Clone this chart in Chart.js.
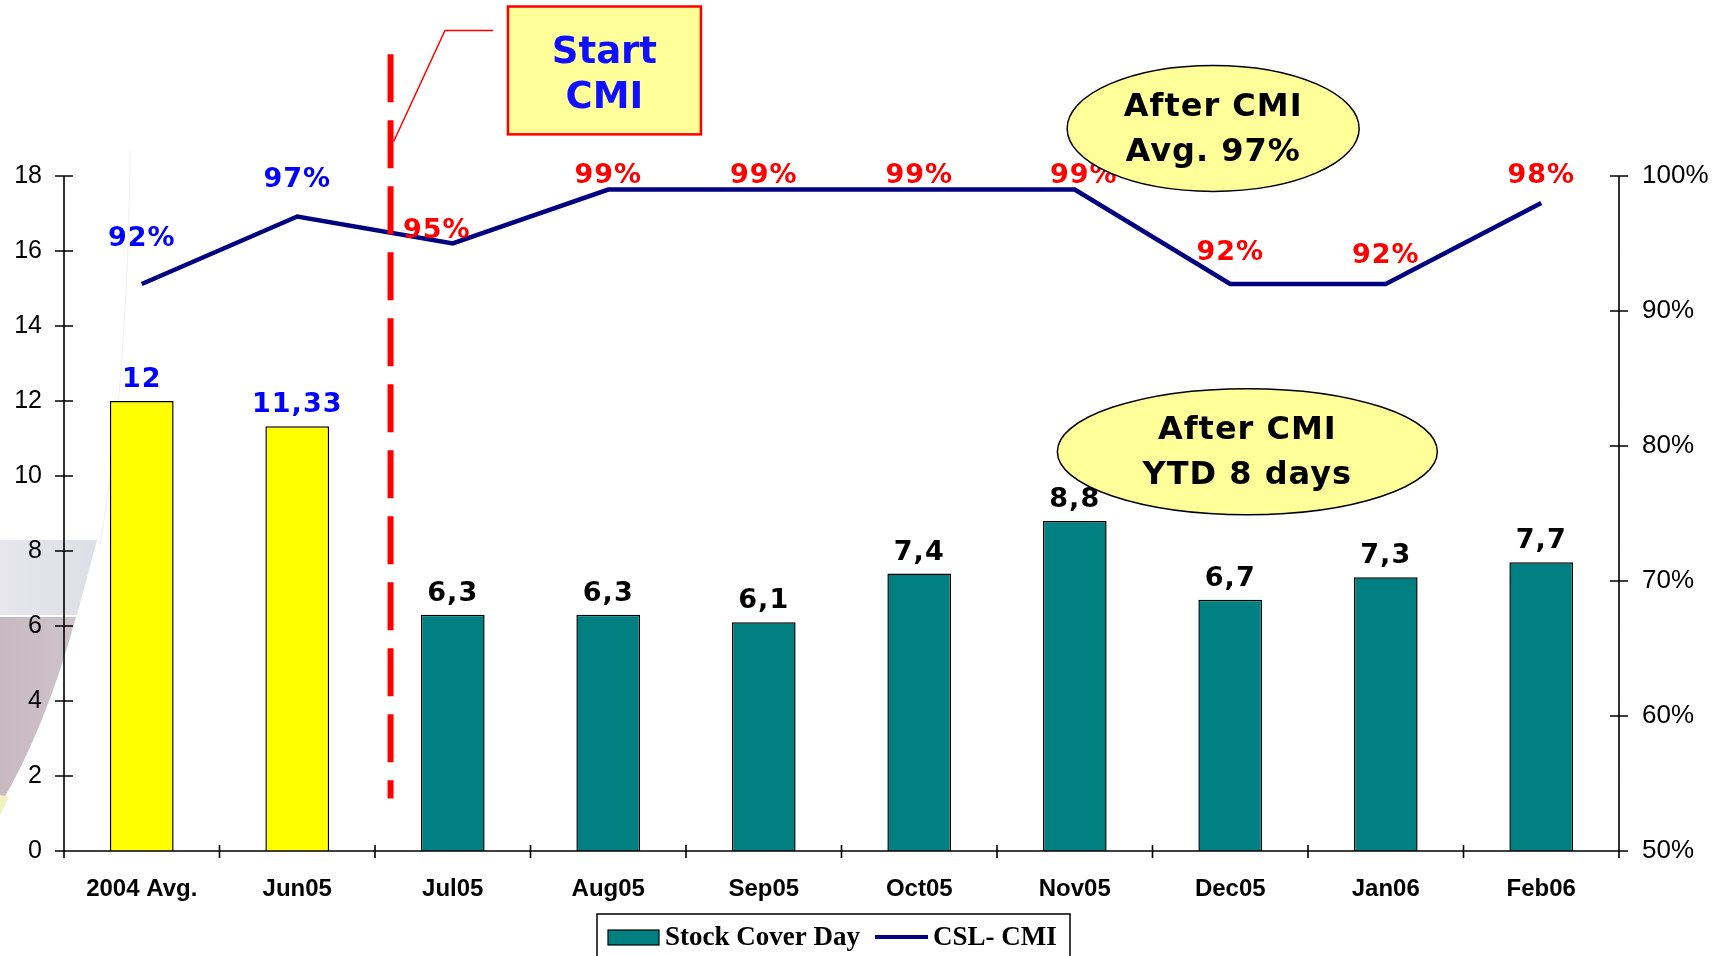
<!DOCTYPE html>
<html>
<head>
<meta charset="utf-8">
<script src="https://cdn.jsdelivr.net/npm/chart.js@4.4.0/dist/chart.umd.min.js"></script>
<style>
  html, body { margin: 0; padding: 0; background: #fff; }
  #wrap { width: 1730px; height: 956px; }
</style>
</head>
<body>
<div id="wrap"><canvas id="chart" width="1730" height="956"></canvas></div>
<script>
// values
const categories = ['2004 Avg.', 'Jun05', 'Jul05', 'Aug05', 'Sep05', 'Oct05', 'Nov05', 'Dec05', 'Jan06', 'Feb06'];
const stockCoverDays = [12, 11.33, 6.3, 6.3, 6.1, 7.4, 8.8, 6.7, 7.3, 7.7];
const cslCmi = [92, 97, 95, 99, 99, 99, 99, 92, 92, 98];
const daysTicks = [0, 18, 2];      // min, max, step
const pctTicks = [50, 100, 10];
const preCmiCount = 2;             // months before CMI start

// styling
const YELLOW = '#ffff00', TEAL = '#008080', NAVY = '#000080';
const BLUE = '#0000ff', RED = '#ff0000';
const labelFont = 'bold 27px "DejaVu Sans"';
const noteFont = 'bold 32px "DejaVu Sans"';
// little nudges so the % labels sit where they did on the slide
const pctLabelLift = [45, 37, 13, 14, 14, 14, 14, 31, 28, 27];
const pctLabelShift = [0, 0, -16, 0, 0, 0, 9, 0, 0, 0];

const fmt = v => String(v).replace('.', ',');

// faint funnel art on the left edge of the slide
const backdrop = {
  id: 'backdrop',
  beforeDraw(chart) {
    const c = chart.ctx;
    c.save();
    let g = c.createLinearGradient(0, 0, 100, 0);
    g.addColorStop(0, 'rgba(230,230,236,1)');
    g.addColorStop(1, 'rgba(222,222,230,1)');
    c.fillStyle = g;
    c.beginPath();
    c.moveTo(0, 540); c.lineTo(97, 540); c.lineTo(77, 615); c.lineTo(0, 615);
    c.closePath(); c.fill();
    g = c.createLinearGradient(0, 0, 80, 0);
    g.addColorStop(0, 'rgba(198,186,192,1)');
    g.addColorStop(1, 'rgba(207,196,201,1)');
    c.fillStyle = g;
    c.beginPath();
    c.moveTo(0, 617); c.lineTo(76, 617); c.quadraticCurveTo(45, 730, 0, 805);
    c.closePath(); c.fill();
    c.fillStyle = 'rgba(240,242,190,1)';
    c.beginPath();
    c.moveTo(0, 795); c.lineTo(9, 797); c.lineTo(0, 815); c.closePath(); c.fill();
    c.strokeStyle = 'rgba(232,238,232,0.7)';
    c.lineWidth = 1.2;
    c.beginPath();
    c.moveTo(130, 150); c.quadraticCurveTo(128, 380, 100, 545);
    c.stroke();
    c.restore();
  }
};

// axis lines with ticks that cross the line, like the old Excel chart
const axes = {
  id: 'axes',
  afterDatasetsDraw(chart) {
    const c = chart.ctx, a = chart.chartArea;
    const { x, y, y1 } = chart.scales;
    c.save();
    c.strokeStyle = '#000';
    c.lineWidth = 1.6;
    c.beginPath();
    c.moveTo(a.left, a.top); c.lineTo(a.left, a.bottom);
    c.moveTo(a.right, a.top); c.lineTo(a.right, a.bottom);
    c.moveTo(a.left, a.bottom); c.lineTo(a.right, a.bottom);
    y.ticks.forEach(t => {
      const p = y.getPixelForValue(t.value);
      c.moveTo(a.left - 9, p); c.lineTo(a.left + 9, p);
    });
    y1.ticks.forEach(t => {
      const p = y1.getPixelForValue(t.value);
      c.moveTo(a.right - 9, p); c.lineTo(a.right + 9, p);
    });
    for (let i = 0; i <= categories.length; i++) {
      const p = x.getPixelForValue(i - 0.5);
      c.moveTo(p, a.bottom - 6); c.lineTo(p, a.bottom + 7);
    }
    c.stroke();
    c.restore();
  }
};

// value labels on bars and line points
const valueLabels = {
  id: 'valueLabels',
  afterDatasetsDraw(chart) {
    const c = chart.ctx;
    c.save();
    c.font = labelFont;
    c.letterSpacing = '1px';
    c.textAlign = 'center';
    c.textBaseline = 'middle';
    chart.getDatasetMeta(0).data.forEach((bar, i) => {
      c.fillStyle = i < preCmiCount ? BLUE : '#000';
      c.fillText(fmt(stockCoverDays[i]), bar.x, bar.y - 21);
    });
    chart.getDatasetMeta(1).data.forEach((pt, i) => {
      c.fillStyle = i < preCmiCount ? BLUE : RED;
      c.fillText(cslCmi[i] + '%', pt.x + pctLabelShift[i], pt.y - pctLabelLift[i]);
    });
    c.restore();
  }
};

// start-of-CMI marker and the two call-out bubbles
const notes = {
  id: 'notes',
  afterDraw(chart) {
    const c = chart.ctx;
    const { x, y } = chart.scales;
    const px = v => x.getPixelForValue(v);
    const py = v => y.getPixelForValue(v);
    c.save();

    // dashed start line
    c.strokeStyle = RED;
    c.lineWidth = 6;
    c.setLineDash([48, 18]);
    c.beginPath();
    c.moveTo(px(1.6), py(21.25)); c.lineTo(px(1.6), py(1.4));
    c.stroke();
    c.setLineDash([]);

    // leader + box
    c.lineWidth = 1.5;
    c.beginPath();
    c.moveTo(px(1.62), py(18.92)); c.lineTo(px(1.95), py(21.88)); c.lineTo(px(2.26), py(21.88));
    c.stroke();
    const bx = px(2.355), bw = px(3.596) - bx, by = py(22.52), bh = py(19.11) - by;
    c.fillStyle = '#ffff99';
    c.fillRect(bx, by, bw, bh);
    c.lineWidth = 2.5;
    c.strokeRect(bx, by, bw, bh);
    c.fillStyle = '#1010ff';
    c.font = 'bold 37px "DejaVu Sans"';
    c.textAlign = 'center';
    c.textBaseline = 'middle';
    c.fillText('Start', bx + bw / 2, by + 47);
    c.fillText('CMI', bx + bw / 2, by + 92);

    const bubble = (cx, cy, rx, ry, lines) => {
      c.beginPath();
      c.ellipse(cx, cy, rx, ry, 0, 0, Math.PI * 2);
      c.fillStyle = '#ffff99';
      c.fill();
      c.strokeStyle = '#000';
      c.lineWidth = 1.5;
      c.stroke();
      c.fillStyle = '#000';
      c.font = noteFont;
      c.letterSpacing = '1px';
      c.fillText(lines[0], cx, cy - 21);
      c.fillText(lines[1], cx, cy + 24);
      c.letterSpacing = '0px';
    };
    bubble(px(6.89), py(19.27), 146, 63, ['After CMI', 'Avg. 97%']);
    bubble(px(7.11), py(10.65), 190, 63, ['After CMI', 'YTD 8 days']);
    c.restore();
  }
};

// boxed legend under the axis labels
const boxLegend = {
  id: 'boxLegend',
  afterDraw(chart) {
    const c = chart.ctx;
    const sets = chart.data.datasets;
    c.save();
    c.strokeStyle = '#000';
    c.lineWidth = 1.5;
    c.strokeRect(597, 914, 473, 60);
    c.font = 'bold 27px "Liberation Serif"';
    c.textBaseline = 'middle';
    c.textAlign = 'left';
    c.fillStyle = TEAL;
    c.fillRect(608, 930, 51, 15);
    c.lineWidth = 1.2;
    c.strokeRect(608, 930, 51, 15);
    c.fillStyle = '#000';
    c.fillText(sets[0].label, 665, 938);
    c.strokeStyle = NAVY;
    c.lineWidth = 4;
    c.beginPath();
    c.moveTo(875, 937); c.lineTo(928, 937);
    c.stroke();
    c.fillText(sets[1].label, 933, 938);
    c.restore();
  }
};

new Chart(document.getElementById('chart'), {
  type: 'bar',
  data: {
    labels: categories,
    datasets: [
      {
        label: 'Stock Cover Day',
        data: stockCoverDays,
        yAxisID: 'y',
        backgroundColor: stockCoverDays.map((v, i) => i < preCmiCount ? YELLOW : TEAL),
        borderColor: '#000',
        borderWidth: 1.5,
        barPercentage: 0.41,
        categoryPercentage: 1,
        order: 2
      },
      {
        type: 'line',
        label: 'CSL- CMI',
        data: cslCmi,
        yAxisID: 'y1',
        borderColor: NAVY,
        borderWidth: 4.5,
        pointRadius: 0,
        tension: 0,
        order: 1
      }
    ]
  },
  options: {
    responsive: false,
    animation: false,
    devicePixelRatio: 1,
    layout: { padding: { top: 176, left: 0, right: 0, bottom: 0 } },
    plugins: { legend: { display: false }, tooltip: { enabled: false } },
    scales: {
      x: {
        offset: true,
        grid: { display: false, drawTicks: false },
        border: { display: false },
        ticks: {
          color: '#000', padding: 24, maxRotation: 0, autoSkip: false,
          font: { family: 'Liberation Sans', weight: 'bold', size: 24 }
        },
        afterFit(s) { s.height = 105; }
      },
      y: {
        position: 'left',
        min: daysTicks[0], max: daysTicks[1],
        grid: { display: false, drawTicks: false },
        border: { display: false },
        ticks: {
          stepSize: daysTicks[2], color: '#000', padding: 22,
          font: { family: 'Liberation Sans', size: 25 }
        },
        afterFit(s) { s.width = 64; }
      },
      y1: {
        position: 'right',
        min: pctTicks[0], max: pctTicks[1],
        grid: { display: false, drawTicks: false },
        border: { display: false },
        ticks: {
          stepSize: pctTicks[2], color: '#000', padding: 23,
          font: { family: 'Liberation Sans', size: 26 },
          callback: v => v + '%'
        },
        afterFit(s) { s.width = 111; }
      }
    }
  },
  plugins: [backdrop, axes, valueLabels, notes, boxLegend]
});
</script>
</body>
</html>
